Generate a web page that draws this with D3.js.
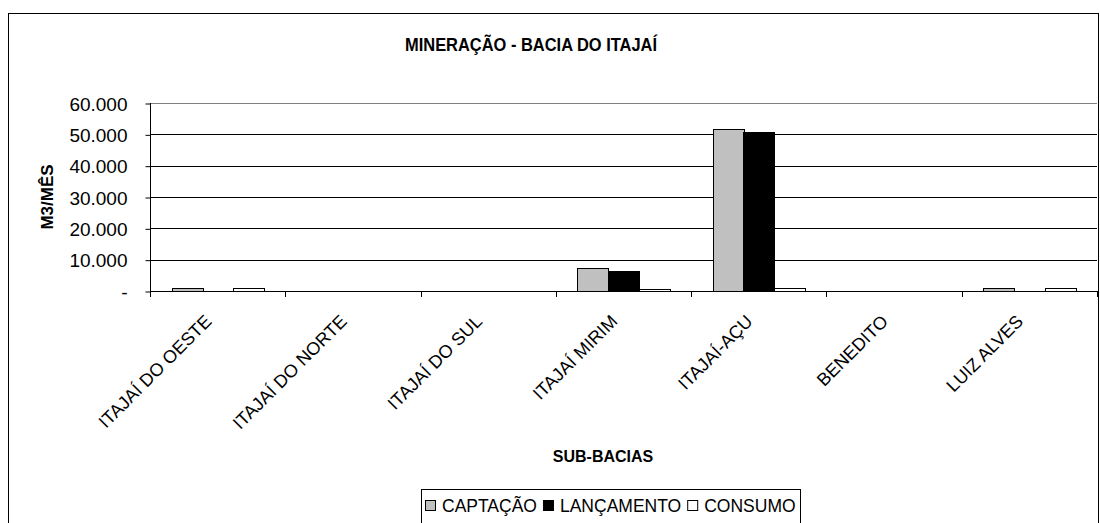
<!DOCTYPE html>
<html>
<head>
<meta charset="utf-8">
<script src="https://cdnjs.cloudflare.com/ajax/libs/d3/7.8.5/d3.min.js"></script>
<style>
  body { margin: 0; background: #fff; }
  text { font-family: "Liberation Sans", Arial, sans-serif; fill: #000; }
  .title { font-weight: bold; }
</style>
</head>
<body>
<div id="graph"></div>
<script>
let categories = ["ITAJAÍ DO OESTE", "ITAJAÍ DO NORTE", "ITAJAÍ DO SUL", "ITAJAÍ MIRIM", "ITAJAÍ-AÇU", "BENEDITO", "LUIZ ALVES"];
let seriesNames = ["CAPTAÇÃO", "LANÇAMENTO", "CONSUMO"];
let captacao = [1000, 0, 0, 7300, 51700, 0, 1000];
let lancamento = [0, 0, 0, 6500, 50800, 0, 0];
let consumo = [1000, 0, 0, 600, 900, 0, 1000];
let yTicks = [0, 10000, 20000, 30000, 40000, 50000, 60000];
let colors = ["#c0c0c0", "#000000", "#ffffff"];

function graph() {

  let w = 1100;
  let h = 523;
  let left = 150, right = 1097, top = 103, bottom = 291;

  let values = [captacao, lancamento, consumo];
  let rows = [];
  categories.forEach((c, i) => {
    seriesNames.forEach((s, j) => {
      rows.push({cat: c, serie: s, value: values[j][i], idx: j});
    });
  });

  let br = d3.formatLocale({decimal: ",", thousands: ".", grouping: [3], currency: ["R$", ""]});
  let fmt = br.format(",.0f");

  const svg = d3.select("#graph")
                .append("svg")
                .attr("width", w)
                .attr("height", h);

  // outer chart border
  svg.append("rect")
     .attr("x", 8.5)
     .attr("y", 13.5)
     .attr("width", 1090)
     .attr("height", 530)
     .attr("fill", "none")
     .attr("stroke", "#000");

  const xScale = d3.scaleBand()
                   .domain(categories)
                   .range([left, right]);

  const xInner = d3.scaleBand()
                   .domain(seriesNames)
                   .range([0, xScale.bandwidth()])
                   .paddingOuter(0.7);

  const yScale = d3.scaleLinear()
                   .domain([0, 60000])
                   .range([bottom, top]);

  // gridlines
  svg.append("g")
     .selectAll("line")
     .data(yTicks.slice(1))
     .enter()
     .append("line")
     .attr("x1", left)
     .attr("x2", right)
     .attr("y1", d => Math.round(yScale(d)) + 0.5)
     .attr("y2", d => Math.round(yScale(d)) + 0.5)
     .attr("stroke", d => d == 60000 ? "#808080" : "#000");

  // bars
  svg.append("g")
     .selectAll("rect")
     .data(rows.filter(d => d.value > 0))
     .enter()
     .append("rect")
     .attr("x", d => Math.round(xScale(d.cat) + xInner(d.serie)) + 0.5)
     .attr("y", d => Math.round(yScale(d.value)) + 0.5)
     .attr("width", Math.round(xInner.bandwidth()))
     .attr("height", d => Math.round(yScale(0)) - Math.round(yScale(d.value)))
     .attr("fill", d => colors[d.idx])
     .attr("stroke", "#000");

  const yAxis = d3.axisLeft(yScale)
                  .tickValues(yTicks)
                  .tickSize(5)
                  .tickPadding(18)
                  .tickFormat(d => d == 0 ? "-" : fmt(d));

  svg.append("g")
     .attr("id", "y-axis")
     .attr("transform", "translate(" + (left + 0.5) + ",0.5)")
     .call(yAxis)
     .call(g => g.select(".domain").remove())
     .call(g => g.selectAll("text").style("font-size", "19px").attr("dy", "0.35em"));

  svg.append("line")
     .attr("x1", left + 0.5)
     .attr("x2", left + 0.5)
     .attr("y1", top)
     .attr("y2", bottom + 1)
     .attr("stroke", "#000");

  const xAxis = d3.axisBottom(xScale)
                  .tickSize(0)
                  .tickPadding(0);

  svg.append("g")
     .attr("id", "x-axis")
     .attr("transform", "translate(0," + (bottom + 0.5) + ")")
     .call(xAxis)
     .call(g => g.select(".domain").attr("d", "M" + left + ",0H" + right))
     .call(g => g.selectAll("text")
                 .style("font-size", "18px")
                 .attr("text-anchor", "end")
                 .attr("y", 0)
                 .attr("dy", 0)
                 .attr("transform", "translate(-5,31) rotate(-45)"));

  // category separator ticks
  let edges = categories.map(c => xScale(c)).concat([right]);
  svg.append("g")
     .selectAll("line")
     .data(edges)
     .enter()
     .append("line")
     .attr("x1", d => Math.round(d) + 0.5)
     .attr("x2", d => Math.round(d) + 0.5)
     .attr("y1", bottom)
     .attr("y2", bottom + 6)
     .attr("stroke", "#000");

  svg.append("text")
     .attr("class", "title")
     .attr("x", 531)
     .attr("y", 51)
     .attr("text-anchor", "middle")
     .attr("textLength", 252)
     .attr("lengthAdjust", "spacingAndGlyphs")
     .style("font-size", "19px")
     .text("MINERAÇÃO - BACIA DO ITAJAÍ");

  svg.append("text")
     .attr("class", "title")
     .attr("transform", "translate(53,197) rotate(-90)")
     .attr("text-anchor", "middle")
     .style("font-size", "17px")
     .text("M3/MÊS");

  svg.append("text")
     .attr("class", "title")
     .attr("x", 603)
     .attr("y", 462)
     .attr("text-anchor", "middle")
     .style("font-size", "16px")
     .text("SUB-BACIAS");

  // legend
  let legend = svg.append("g")
                  .attr("transform", "translate(421,489)");

  legend.append("rect")
        .attr("x", 0.5)
        .attr("y", 0.5)
        .attr("width", 379)
        .attr("height", 60)
        .attr("fill", "#fff")
        .attr("stroke", "#000");

  let lx = 4;
  seriesNames.forEach((s, i) => {
    legend.append("rect")
          .attr("x", lx + 0.5)
          .attr("y", 11.5)
          .attr("width", 10)
          .attr("height", 10)
          .attr("fill", colors[i])
          .attr("stroke", "#000");
    let t = legend.append("text")
                  .attr("x", lx + 17)
                  .attr("y", 23)
                  .style("font-size", "17.5px")
                  .text(s);
    lx += 17 + t.node().getComputedTextLength() + 6;
  });

} //end of graph func

graph();
</script>
</body>
</html>
